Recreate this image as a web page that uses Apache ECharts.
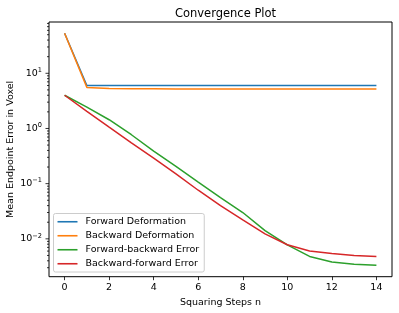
<!DOCTYPE html>
<html>
<head>
<meta charset="utf-8">
<script src="https://cdn.jsdelivr.net/npm/echarts@6/dist/echarts.min.js"></script>
<style>html,body{margin:0;padding:0;background:#fff}#c{width:399px;height:313px}</style>
</head>
<body>
<div id="c"></div>
<script>
const steps = [0,1,2,3,4,5,6,7,8,9,10,11,12,13,14];
const forwardDeformation  = [53, 6.0, 6.0, 6.0, 6.0, 6.0, 6.0, 6.0, 6.0, 6.0, 6.0, 6.0, 6.0, 6.0, 6.0];
const backwardDeformation = [53, 5.55, 5.32, 5.26, 5.23, 5.21, 5.2, 5.2, 5.2, 5.2, 5.2, 5.2, 5.2, 5.2, 5.2];
const forwardBackwardError = [4.0, 2.43, 1.44, 0.77, 0.39, 0.206, 0.107, 0.056, 0.030, 0.0141, 0.0078, 0.0048, 0.0038, 0.00347, 0.00333];
const backwardForwardError = [4.0, 2.05, 1.06, 0.55, 0.29, 0.151, 0.076, 0.040, 0.022, 0.0123, 0.0078, 0.0060, 0.0054, 0.0050, 0.0048];
const xTicks = [0,2,4,6,8,10,12,14];
const yMajorTicks = [0.01, 0.1, 1, 10];
const yMinorTicks = [0.003,0.004,0.005,0.006,0.007,0.008,0.009,
  0.02,0.03,0.04,0.05,0.06,0.07,0.08,0.09,
  0.2,0.3,0.4,0.5,0.6,0.7,0.8,0.9,
  2,3,4,5,6,7,8,9,
  20,30,40,50,60,70,80];
const seriesNames = ['Forward Deformation','Backward Deformation','Forward-backward Error','Backward-forward Error'];
const colors = ['#1f77b4','#ff7f0e','#2ca02c','#d62728'];

const X_MIN = -0.7, X_MAX = 14.7, Y_MIN = 0.00206, Y_MAX = 85;
const FONT = 'DejaVu Sans';
const FS = 9.5;

function pair(ys){ return steps.map((x,i)=>[x, ys[i]]); }
function sup(v){
  const e = Math.round(Math.log10(v));
  return '10{s|' + (e < 0 ? '\u2212' + (-e) : String(e)) + '}';
}
const tickData = yMajorTicks.map(v=>[X_MIN, v, 3.5]).concat(yMinorTicks.map(v=>[X_MIN, v, 2]));

const chart = echarts.init(document.getElementById('c'), null, {renderer:'canvas'});
chart.setOption({
  animation: false,
  backgroundColor: '#fff',
  title: {
    text: 'Convergence Plot', left: 220.5, textAlign: 'center', top: 3,
    textStyle: {fontFamily: FONT, fontSize: 11.5, fontWeight: 'normal', color: '#000'}
  },
  grid: {left: 49, right: 7, top: 22, bottom: 36.3, outerBoundsMode: 'none', containLabel: false,
    show: true, borderColor: '#000', borderWidth: 1, backgroundColor: 'transparent'},
  legend: {
    orient: 'vertical', left: 53.5, top: 213.5,
    data: seriesNames.map(n => ({name: n, icon: 'rect'})),
    itemWidth: 20, itemHeight: 1.6, itemGap: 3.5,
    padding: [3, 5, 3, 4],
    backgroundColor: 'rgba(255,255,255,0.8)', borderColor: '#cccccc', borderWidth: 1, borderRadius: 2,
    textStyle: {fontFamily: FONT, fontSize: FS, lineHeight: 10.5, color: '#000', padding: [0,0,0,3]}
  },
  xAxis: {
    type: 'value', min: X_MIN, max: X_MAX,
    name: 'Squaring Steps n', nameLocation: 'middle', nameGap: 21, nameMoveOverlap: false,
    nameTextStyle: {fontFamily: FONT, fontSize: FS, color: '#000'},
    axisLine: {show: false},
    splitLine: {show: false},
    axisTick: {show: true, length: 3.5, inside: false, customValues: xTicks, lineStyle: {color: '#000', width: 0.8}},
    axisLabel: {customValues: xTicks, margin: 6, fontFamily: FONT, fontSize: FS, color: '#000'}
  },
  yAxis: {
    type: 'log', logBase: 10, min: Y_MIN, max: Y_MAX,
    name: 'Mean Endpoint Error in Voxel', nameLocation: 'middle', nameGap: 33, nameRotate: 90, nameMoveOverlap: false,
    nameTextStyle: {fontFamily: FONT, fontSize: FS, color: '#000'},
    axisLine: {show: false},
    splitLine: {show: false},
    minorTick: {show: false},
    axisTick: {show: false},
    axisLabel: {
      showMinLabel: false, showMaxLabel: false, margin: 7,
      formatter: sup,
      fontFamily: FONT, fontSize: FS, color: '#000',
      rich: {s: {fontFamily: FONT, fontSize: 6.6, color: '#000', verticalAlign: 'top', padding: [0,0,6,0]}}
    }
  },
  series: [
    {name: seriesNames[0], type: 'line', data: pair(forwardDeformation), symbol: 'none', lineStyle: {width: 1.5, color: colors[0]}, itemStyle: {color: colors[0]}},
    {name: seriesNames[1], type: 'line', data: pair(backwardDeformation), symbol: 'none', lineStyle: {width: 1.5, color: colors[1]}, itemStyle: {color: colors[1]}},
    {name: seriesNames[2], type: 'line', data: pair(forwardBackwardError), symbol: 'none', lineStyle: {width: 1.5, color: colors[2]}, itemStyle: {color: colors[2]}},
    {name: seriesNames[3], type: 'line', data: pair(backwardForwardError), symbol: 'none', lineStyle: {width: 1.5, color: colors[3]}, itemStyle: {color: colors[3]}},
    {
      type: 'custom', silent: true, clip: false, z: 5,
      data: tickData,
      encode: {x: 0, y: 1},
      renderItem: function(params, api){
        const p = api.coord([api.value(0), api.value(1)]);
        const len = api.value(2);
        return {type: 'line', shape: {x1: p[0]-len, y1: p[1], x2: p[0], y2: p[1]}, style: {stroke: '#000', lineWidth: 0.8}};
      }
    }
  ]
});
</script>
</body>
</html>
